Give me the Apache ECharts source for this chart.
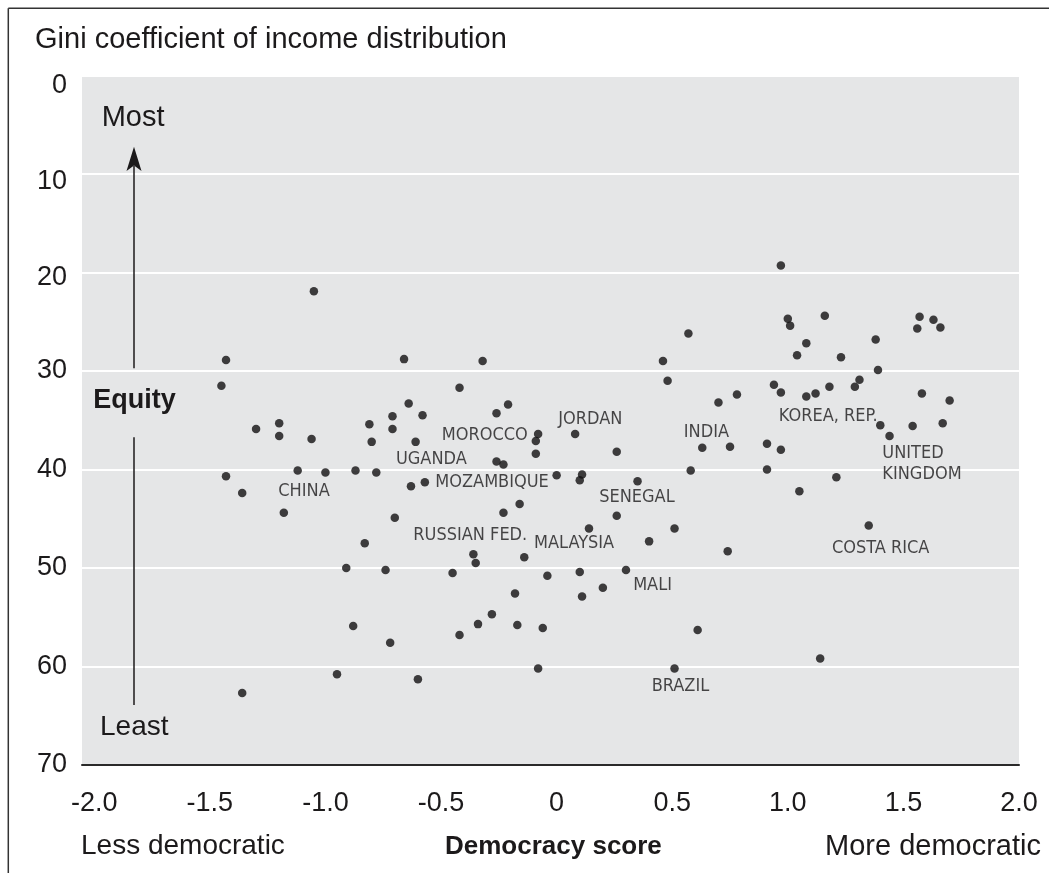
<!DOCTYPE html>
<html>
<head>
<meta charset="utf-8">
<script src="https://cdn.jsdelivr.net/npm/echarts@6/dist/echarts.min.js"></script>
<style>
html,body{margin:0;padding:0;background:#fff;}
#chart{width:1049px;height:873px;}
</style>
</head>
<body>
<div id="chart"></div>
<script>
// Democracy score (x) for each country point
var democracy = [
  -1.43,-1.45,-1.30,-1.20,-1.20,-1.06,-0.81,-0.71,-0.71,-0.80,
  -1.43,-1.36,-1.12,-1.00,-0.87,-0.78,-1.18,-0.70,-0.83,-1.05,
  -0.91,-0.74,-0.88,-0.72,-0.95,-1.36,-0.66,-0.32,0.46,0.48,
  -0.42,-0.64,-0.21,-0.26,-0.58,-0.61,-0.08,-0.09,0.08,-0.09,
  0.26,-0.26,-0.23,0.00,0.11,0.10,0.35,-0.63,-0.57,-0.16,
  -0.23,0.26,0.14,0.40,-0.36,-0.14,0.51,-0.35,-0.45,-0.04,
  0.10,0.30,-0.18,0.11,0.20,-0.28,-0.34,-0.17,-0.06,-0.42,
  0.61,-0.08,0.51,-0.60,0.57,0.97,1.00,1.01,1.16,1.08,
  1.04,1.23,1.38,1.39,1.57,1.63,1.56,1.66,0.94,0.97,
  0.78,0.70,1.08,1.12,1.18,1.31,1.29,1.58,1.70,1.40,
  1.54,1.67,1.44,0.63,0.75,0.91,0.97,0.58,0.91,1.21,
  1.05,0.74,1.35,1.14
];
// Gini coefficient (y) for each country point
var gini = [
  28.9,31.5,35.9,35.3,36.6,36.9,35.4,34.6,35.9,37.2,
  40.7,42.4,40.1,40.3,40.1,40.3,44.4,44.9,47.5,21.9,
  50.0,50.2,55.9,57.6,60.8,62.7,28.8,29.0,29.0,31.0,
  31.7,33.3,33.4,34.3,34.5,37.2,36.4,37.1,36.4,38.4,
  38.2,39.2,39.5,40.6,40.5,41.1,41.2,41.7,41.3,43.5,
  44.4,44.7,46.0,47.3,48.6,48.9,46.0,49.5,50.5,50.8,
  50.4,50.2,52.6,52.9,52.0,54.7,55.7,55.8,56.1,56.8,
  56.3,60.2,60.2,61.3,26.2,19.3,24.7,25.4,24.4,27.2,
  28.4,28.6,26.8,29.9,24.5,24.8,25.7,25.6,31.4,32.2,
  32.4,33.2,32.6,32.3,31.6,30.9,31.6,32.3,33.0,35.5,
  35.6,35.3,36.6,37.8,37.7,37.4,38.0,40.1,40.0,40.8,
  42.2,48.3,45.7,59.2
];
// Country annotations: name, democracy score and Gini value at the label's left/middle
var labelNames = ['CHINA','UGANDA','MOROCCO','JORDAN','MOZAMBIQUE','SENEGAL','RUSSIAN FED.','MALAYSIA','MALI','BRAZIL','INDIA','KOREA, REP.','UNITED\nKINGDOM','COSTA RICA'];
var labelX = [-1.204,-0.695,-0.497,0.007,-0.525,0.184,-0.620,-0.098,0.331,0.411,0.550,0.961,1.409,1.191];
var labelY = [42.19,38.99,36.53,34.88,41.33,42.85,46.71,47.47,51.81,62.03,36.25,34.63,39.40,47.97];
// Axis ticks
var xTickValues = [-2,-1.5,-1,-0.5,0,0.5,1,1.5,2];
var xTickLabels = ['-2.0','-1.5','-1.0','-0.5','0','0.5','1.0','1.5','2.0'];
var yMin = 0, yMax = 70, yInterval = 10;

var points = democracy.map(function (d, i) { return [d, gini[i]]; });
var labelData = labelNames.map(function (n, i) { return { name: n, value: [labelX[i], labelY[i]] }; });

var INK = '#1c1a1b';
var FONT = "'Liberation Sans', Arial, sans-serif";
var NARROW = "'Liberation Sans Narrow', 'Arial Narrow', 'DejaVu Sans Condensed', 'Liberation Sans', sans-serif";

function yRich(pad) {
  return { color: INK, fontFamily: FONT, fontSize: 27, padding: [pad, 0, 0, 0] };
}

var chart = echarts.init(document.getElementById('chart'), null, { renderer: 'canvas' });
chart.setOption({
  animation: false,
  backgroundColor: '#ffffff',
  grid: {
    left: 82, right: 30, top: 75.4, bottom: 108,
    show: true, backgroundColor: '#e5e6e7', borderWidth: 0
  },
  xAxis: {
    type: 'value',
    min: -2.053, max: 2.0,
    axisLine: { show: true, onZero: false, lineStyle: { color: '#2a2a2a', width: 2 } },
    axisTick: { show: false },
    splitLine: { show: false },
    axisLabel: {
      customValues: xTickValues,
      margin: 25,
      color: INK,
      fontFamily: FONT,
      fontSize: 27,
      formatter: function (v) {
        for (var i = 0; i < xTickValues.length; i++) {
          if (Math.abs(xTickValues[i] - v) < 1e-6) return xTickLabels[i];
        }
        return '';
      }
    }
  },
  yAxis: {
    type: 'value',
    inverse: true,
    min: yMin, max: yMax, interval: yInterval,
    axisLine: { show: false },
    axisTick: { show: false },
    splitLine: { show: true, lineStyle: { color: '#ffffff', width: 2 } },
    axisLabel: {
      margin: 15, color: INK, fontFamily: FONT, fontSize: 27,
      formatter: function (v) {
        if (v === 0) return '{a|0}';
        if (v === 10) return '{b|10}';
        if (v === 20) return '{c|20}';
        return String(v);
      },
      rich: { a: yRich(20), b: yRich(15), c: yRich(10) }
    }
  },
  series: [
    {
      type: 'scatter',
      data: points,
      symbol: 'circle',
      symbolSize: 8.5,
      itemStyle: { color: '#111011' },
      z: 3
    },
    {
      type: 'scatter',
      data: labelData,
      symbolSize: 0,
      silent: true,
      label: {
        show: true,
        position: 'right',
        distance: 0,
        formatter: function (p) { return p.name; },
        color: INK,
        fontFamily: NARROW,
        fontSize: 18,
        lineHeight: 21,
        align: 'left',
        verticalAlign: 'middle'
      },
      z: 4
    }
  ],
  graphic: [
    { type: 'line', shape: { x1: 8.3, y1: 8.3, x2: 8.3, y2: 873 }, style: { stroke: '#333', lineWidth: 1.5 } },
    { type: 'line', shape: { x1: 8.3, y1: 8.3, x2: 1049, y2: 8.3 }, style: { stroke: '#333', lineWidth: 1.5 } },
    { type: 'text', x: 35, y: 39.7, style: { text: 'Gini coefficient of income distribution', fill: INK, font: '29px ' + FONT, textVerticalAlign: 'middle' } },
    { type: 'text', x: 101.7, y: 118.3, z: 10, style: { text: 'Most', fill: INK, font: '29px ' + FONT, textVerticalAlign: 'middle' } },
    { type: 'text', x: 100, y: 727, z: 10, style: { text: 'Least', fill: INK, font: '28px ' + FONT, textVerticalAlign: 'middle' } },
    { type: 'text', x: 93.3, y: 400.5, z: 10, style: { text: 'Equity', fill: INK, font: 'bold 27px ' + FONT, textVerticalAlign: 'middle' } },
    { type: 'line', z: 10, shape: { x1: 134, y1: 166, x2: 134, y2: 368.3 }, style: { stroke: INK, lineWidth: 1.5 } },
    { type: 'line', z: 10, shape: { x1: 134, y1: 437.3, x2: 134, y2: 705 }, style: { stroke: INK, lineWidth: 1.5 } },
    { type: 'polygon', z: 10, shape: { points: [[134, 146.7], [141.5, 171], [134, 165.5], [126.5, 171]] }, style: { fill: INK } },
    { type: 'text', x: 81, y: 846.7, style: { text: 'Less democratic', fill: INK, font: '28px ' + FONT, textVerticalAlign: 'middle' } },
    { type: 'text', x: 553.4, y: 846.7, style: { text: 'Democracy score', fill: INK, font: 'bold 26px ' + FONT, textAlign: 'center', textVerticalAlign: 'middle' } },
    { type: 'text', x: 1041, y: 846.7, style: { text: 'More democratic', fill: INK, font: '29px ' + FONT, textAlign: 'right', textVerticalAlign: 'middle' } }
  ]
});
</script>
</body>
</html>
